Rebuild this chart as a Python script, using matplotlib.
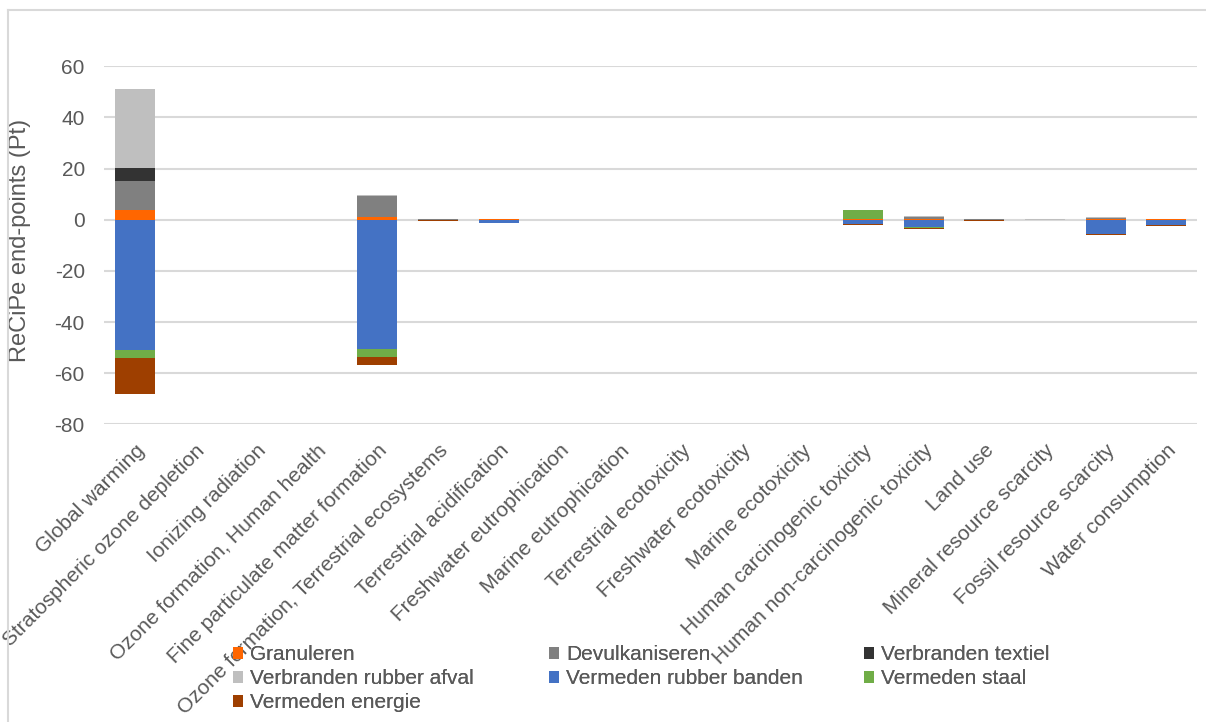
import numpy as np
import matplotlib
matplotlib.use("Agg")
import matplotlib.pyplot as plt
from matplotlib.patches import Patch
from matplotlib.lines import Line2D

plt.rcParams['font.family'] = ['Liberation Sans', 'DejaVu Sans']
plt.rcParams['axes.unicode_minus'] = False

categories = [
    "Global warming", "Stratospheric ozone depletion", "Ionizing radiation",
    "Ozone formation, Human health", "Fine particulate matter formation",
    "Ozone formation, Terrestrial ecosystems", "Terrestrial acidification",
    "Freshwater eutrophication", "Marine eutrophication", "Terrestrial ecotoxicity",
    "Freshwater ecotoxicity", "Marine ecotoxicity", "Human carcinogenic toxicity",
    "Human non-carcinogenic toxicity", "Land use", "Mineral resource scarcity",
    "Fossil resource scarcity", "Water consumption",
]

granuleren = [4.0, 0.0, 0.0, 0.0, 1.0, 0.05, 0.1, 0.0, 0.0, 0.0, 0.0, 0.0, 0.1, 0.1, 0.05, 0.0, 0.1, 0.1]
devulkaniseren = [11.0, 0.0, 0.0, 0.02, 8.3, 0.3, 0.2, 0.0, 0.0, 0.02, 0.01, 0.0, 0.2, 1.1, 0.1, 0.05, 0.6, 0.2]
verbranden_textiel = [5.4, 0.0, 0.0, 0.0, 0.1, 0.0, 0.0, 0.0, 0.0, 0.0, 0.0, 0.0, 0.0, 0.0, 0.0, 0.0, 0.0, 0.0]
verbranden_rubber_afval = [30.7, 0.0, 0.0, 0.0, 0.1, 0.0, 0.0, 0.0, 0.0, 0.0, 0.0, 0.0, 0.0, 0.1, 0.0, 0.1, 0.2, 0.0]
vermeden_rubber_banden = [-50.8, 0.0, 0.0, -0.02, -50.7, -0.3, -1.2, 0.0, 0.0, -0.02, -0.01, 0.0, -1.8, -3.0, -0.3, -0.2, -5.5, -2.0]
vermeden_staal = [-3.4, 0.0, 0.0, 0.0, -2.9, 0.0, -0.05, 0.0, 0.0, 0.0, 0.0, 0.0, 3.7, -0.1, 0.0, 0.0, -0.05, -0.05]
vermeden_energie = [-14.1, 0.0, 0.0, 0.0, -3.3, -0.1, -0.2, 0.0, 0.0, 0.0, 0.0, 0.0, -0.1, -0.4, -0.2, -0.05, -0.4, -0.3]

series = [
    ("Granuleren", granuleren, "#ff6600"),
    ("Devulkaniseren", devulkaniseren, "#808080"),
    ("Verbranden textiel", verbranden_textiel, "#333333"),
    ("Verbranden rubber afval", verbranden_rubber_afval, "#bfbfbf"),
    ("Vermeden rubber banden", vermeden_rubber_banden, "#4472c4"),
    ("Vermeden staal", vermeden_staal, "#70ad47"),
    ("Vermeden energie", vermeden_energie, "#9e3f00"),
]

TEXT = "#595959"
W, H = 1206, 722
fig = plt.figure(figsize=(W / 100, H / 100), dpi=100)
ax = fig.add_axes([104.3 / W, 1 - 424.3 / H, (1196.7 - 104.3) / W, (424.3 - 66.3) / H])

x = np.arange(len(categories))
pos_base = np.zeros(len(categories))
neg_base = np.zeros(len(categories))
for name, vals, color in series:
    v = np.array(vals, dtype=float)
    bottoms = np.where(v >= 0, pos_base, neg_base)
    ax.bar(x, v, width=0.66, bottom=bottoms, color=color, linewidth=0, zorder=3)
    pos_base += np.where(v >= 0, v, 0)
    neg_base += np.where(v < 0, v, 0)

ax.set_xlim(-0.5, len(categories) - 0.5)
ax.set_ylim(-80, 60)
ax.set_yticks(np.arange(-80, 61, 20))
ax.yaxis.grid(True, color="#d9d9d9", linewidth=1.5, zorder=0)
ax.set_axisbelow(True)
for s in ax.spines.values():
    s.set_visible(False)
ax.tick_params(axis="y", length=0, pad=14, labelsize=15, labelcolor=TEXT)
ax.tick_params(axis="x", length=0, pad=12, labelsize=15, labelcolor=TEXT)
ax.set_xticks(x)
ax.set_xticklabels(categories, rotation=45, ha="right", va="top", rotation_mode="anchor")
ax.set_ylabel("ReCiPe end-points (Pt)", fontsize=17, color=TEXT)
ax.yaxis.set_label_coords((31 - 104.3) / 1092.4, (424.3 - 240) / 358)

# Legend laid out in three equal-width columns, filled row by row
rows = [series[0:3], series[3:6], series[6:7]]
col_x = [233, 549, 864]
row_y = [655, 679, 703]
for r, row in enumerate(rows):
    for c, (name, vals, color) in enumerate(row):
        leg = fig.legend(
            handles=[Patch(facecolor=color, edgecolor="none")], labels=[name],
            loc="center left", bbox_to_anchor=(col_x[c] / W, 1 - row_y[r] / H),
            frameon=False, fontsize=15, handlelength=0.48, handleheight=0.48,
            handletextpad=0.34, borderpad=0, borderaxespad=0, labelcolor=TEXT,
        )
        fig.add_artist(leg)

# Chart area border
fig.add_artist(Line2D([8 / W, 8 / W], [0, 1 - 10 / H], transform=fig.transFigure, color="#d9d9d9", linewidth=1.5))
fig.add_artist(Line2D([8 / W, 1], [1 - 10 / H, 1 - 10 / H], transform=fig.transFigure, color="#d9d9d9", linewidth=1.5))

fig.savefig("out.png", dpi=100, facecolor="white")
